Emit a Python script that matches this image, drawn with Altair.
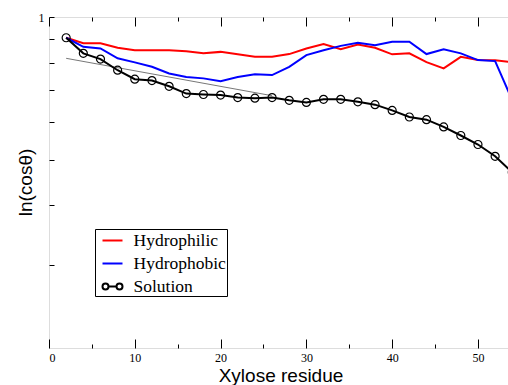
import altair as alt
import pandas as pd

# ---- data ----
residue = [2, 4, 6, 8, 10, 12, 14, 16, 18, 20, 22, 24, 26, 28, 30,
           32, 34, 36, 38, 40, 42, 44, 46, 48, 50, 52, 54]
hydrophilic = [0.904, 0.880, 0.880, 0.861, 0.851, 0.851, 0.851, 0.847, 0.838,
               0.844, 0.834, 0.824, 0.824, 0.835, 0.858, 0.877, 0.855, 0.875,
               0.861, 0.834, 0.838, 0.803, 0.779, 0.824, 0.811, 0.810, 0.803]
hydrophobic = [0.904, 0.865, 0.858, 0.818, 0.802, 0.785, 0.760, 0.747, 0.742,
               0.732, 0.747, 0.757, 0.754, 0.785, 0.831, 0.851, 0.869, 0.882,
               0.872, 0.887, 0.887, 0.835, 0.855, 0.838, 0.811, 0.807, 0.667]
solution = [0.904, 0.838, 0.815, 0.772, 0.739, 0.734, 0.714, 0.689, 0.686,
            0.684, 0.676, 0.674, 0.676, 0.667, 0.660, 0.670, 0.670, 0.662,
            0.653, 0.635, 0.615, 0.607, 0.586, 0.562, 0.538, 0.508, 0.470]
fit_x = [2, 26]
fit_y = [0.818, 0.682]

series_names = ["Hydrophilic", "Hydrophobic", "Solution"]
series_colors = ["#ff0000", "#0000ff", "#000000"]
x_ticks = [0, 10, 20, 30, 40, 50]
x_minor_ticks = [0, 5, 10, 15, 20, 25, 30, 35, 40, 45, 50]
y_ticks = [0.3, 0.4, 0.5, 0.6, 0.7, 0.8, 0.9, 1.0]
y_labels = [1.0]

W, H = 459, 331

df_red = pd.DataFrame({"x": residue, "y": hydrophilic, "series": "Hydrophilic"})
df_blue = pd.DataFrame({"x": residue, "y": hydrophobic, "series": "Hydrophobic"})
df_black = pd.DataFrame({"x": residue, "y": solution, "series": "Solution"})
df_all = pd.concat([df_red, df_blue, df_black], ignore_index=True)
df_fit = pd.DataFrame({"x": fit_x, "y": fit_y})

xscale = alt.Scale(domain=[0, 53.5], nice=False, zero=False)
yscale = alt.Scale(type="log", domain=[0.2, 1.0], nice=False)
cscale = alt.Scale(domain=series_names, range=series_colors)
# legend glyphs: plain strokes, and a stroke with open circles for Solution
solution_glyph = ("M-1,0A0.3,0.3 0 1,1 -0.4,0A0.3,0.3 0 1,1 -1,0"
                  "M-0.4,0L0.4,0"
                  "M0.4,0A0.3,0.3 0 1,1 1,0A0.3,0.3 0 1,1 0.4,0")
sscale = alt.Scale(domain=series_names, range=["stroke", "stroke", solution_glyph])

serif = "Liberation Serif"
sans = "Liberation Sans"

legend = alt.Legend(
    title=None, orient="none", legendX=46, legendY=212,
    strokeColor="black", fillColor="white", padding=0.5,
    symbolSize=400, symbolStrokeWidth=2, symbolOpacity=1,
    symbolOffset=6,
    labelFont=serif, labelFontSize=17.5, labelColor="black",
    rowPadding=3, labelOffset=10,
)

# main axes: labels and titles
x_main = alt.Axis(values=x_ticks, ticks=False, domain=False, labelFont=serif,
                  labelFontSize=12, labelColor="black", labelPadding=4,
                  title="Xylose residue", titleFont=sans, titleFontSize=19,
                  titleFontWeight="normal", titleColor="black",
                  titleX=W / 2 + 2, titleY=27, titleBaseline="middle",
                  grid=False, orient="bottom")
y_main = alt.Axis(values=y_labels, ticks=False, domain=False, labelFont=serif,
                  labelFontSize=12, labelColor="black", labelPadding=5,
                  format="d", title="ln(cosθ)", titleFont=sans,
                  titleFontSize=19, titleFontWeight="normal",
                  titleColor="black", titleAngle=270, titleX=-24,
                  titleY=165, titleBaseline="middle", titleAlign="center",
                  grid=False, orient="left")
# inward ticks along bottom edge (top-oriented axis moved to the bottom)
minor_size = alt.ConditionalAxisNumber(
    condition={"test": "datum.value % 10 === 0", "value": 9}, value=4)
x_bottom_ticks = alt.Axis(values=x_minor_ticks, labels=False, domain=False,
                          title=None, grid=False, orient="top", offset=-H,
                          tickSize=minor_size, tickColor="black", tickWidth=1)
x_top_ticks = alt.Axis(values=x_minor_ticks, labels=False, domain=False,
                       title=None, grid=False, orient="bottom", offset=-H,
                       tickSize=minor_size, tickColor="black", tickWidth=1)
y_left_ticks = alt.Axis(values=y_ticks, labels=False, domain=False,
                        title=None, grid=False, orient="right", offset=-W,
                        tickSize=5, tickColor="black", tickWidth=1)

red = alt.Chart(df_red).mark_line(strokeWidth=2, color=series_colors[0], clip=True).encode(
    x=alt.X("x:Q", scale=xscale, axis=x_main),
    y=alt.Y("y:Q", scale=yscale, axis=y_main),
)
blue = alt.Chart(df_blue).mark_line(strokeWidth=2, color=series_colors[1], clip=True).encode(
    x=alt.X("x:Q", scale=xscale, axis=x_bottom_ticks),
    y=alt.Y("y:Q", scale=yscale, axis=y_left_ticks),
)
fit = alt.Chart(df_fit).mark_line(strokeWidth=1, color="#777777", clip=True).encode(
    x=alt.X("x:Q", scale=xscale, axis=x_top_ticks),
    y=alt.Y("y:Q", scale=yscale, axis=None),
)
black = alt.Chart(df_black).mark_line(strokeWidth=2, color=series_colors[2], clip=True).encode(
    x=alt.X("x:Q", scale=xscale, axis=None),
    y=alt.Y("y:Q", scale=yscale, axis=None),
)
pts = alt.Chart(df_black).mark_point(filled=False, size=64, strokeWidth=1.2,
                                     color="black", opacity=1, clip=True).encode(
    x=alt.X("x:Q", scale=xscale, axis=None),
    y=alt.Y("y:Q", scale=yscale, axis=None),
)
# invisible layer that only carries the legend
legend_layer = alt.Chart(df_all).mark_point(filled=False, opacity=0, size=400).encode(
    x=alt.X("x:Q", scale=xscale, axis=None),
    y=alt.Y("y:Q", scale=yscale, axis=None),
    color=alt.Color("series:N", scale=cscale, legend=legend),
    shape=alt.Shape("series:N", scale=sscale, legend=legend),
)

chart = alt.layer(red, blue, fit, black, pts, legend_layer).resolve_axis(
    x="independent", y="independent"
).properties(
    width=W, height=H,
    autosize=alt.AutoSizeParams(type="none"),
    padding={"left": 49, "top": 17, "right": 0, "bottom": 37},
).configure_view(stroke="black", strokeWidth=1.3).configure(background="white")

chart.save("out.html", embed_options={"renderer": "svg", "actions": False})
